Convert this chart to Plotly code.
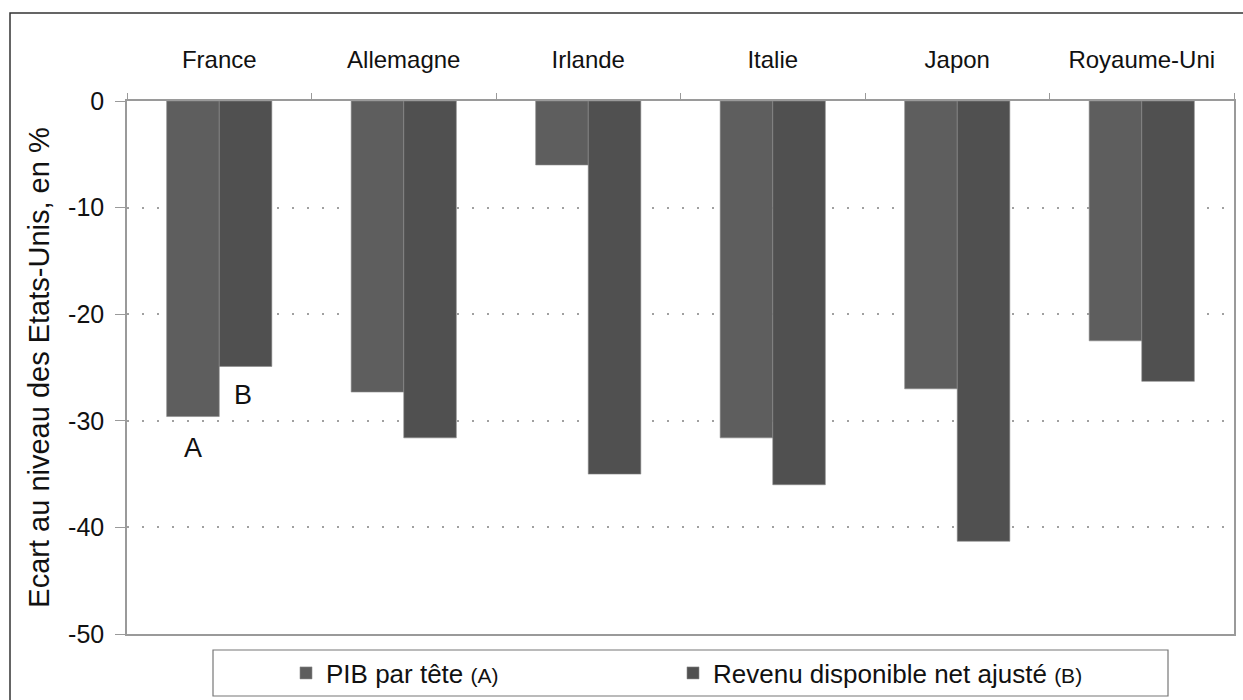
import plotly.graph_objects as go

# Data
pays = ['France', 'Allemagne', 'Irlande', 'Italie', 'Japon', 'Royaume-Uni']
pib_par_tete = [-29.6, -27.3, -6.0, -31.6, -27.0, -22.5]
revenu_ajuste = [-24.9, -31.6, -35.0, -36.0, -41.3, -26.3]
y_ticks = [0, -10, -20, -30, -40, -50]
y_tick_labels = ['0', '-10', '-20', '-30', '-40', '-50']

W, H = 1243, 700
L, R, T, B = 127, 9, 101, 66
PW, PH = W - L - R, H - T - B


def px_x(x):
    return (x - L) / PW


def px_y(y):
    return (H - B - y) / PH


fig = go.Figure()

fig.add_trace(go.Bar(
    x=pays, y=pib_par_tete,
    name="PIB par tête <span style='font-size:21px'>(A)</span>",
    marker=dict(color='#5e5e5e', line=dict(color='#8a8a8a', width=0.6)),
    legend='legend',
))
fig.add_trace(go.Bar(
    x=pays, y=revenu_ajuste,
    name="Revenu disponible net ajusté <span style='font-size:21px'>(B)</span>",
    marker=dict(color='#505050', line=dict(color='#8a8a8a', width=0.6)),
    legend='legend2',
))

legend_style = dict(
    orientation='h',
    xref='container', yref='container',
    xanchor='left', yanchor='middle',
    y=(H - 673) / H,
    borderwidth=0,
    bgcolor='rgba(0,0,0,0)',
    font=dict(size=26),
)

fig.update_layout(
    width=W, height=H,
    margin=dict(l=L, r=R, t=T, b=B),
    paper_bgcolor='white',
    plot_bgcolor='white',
    font=dict(family='Liberation Sans, Arial, sans-serif', size=24, color='#111111'),
    barmode='group',
    bargap=0.43,
    bargroupgap=0,
    showlegend=True,
    legend=dict(legend_style, x=286 / W),
    legend2=dict(legend_style, x=673 / W),
    xaxis=dict(
        side='top',
        automargin=False,
        showline=True, linecolor='#9a9a9a', linewidth=1.5, mirror=True,
        ticks='outside', tickson='boundaries', ticklen=6, tickcolor='#9a9a9a',
        ticklabelstandoff=22,
        showgrid=False,
        tickfont=dict(size=24),
    ),
    yaxis=dict(
        range=[-50, 0],
        automargin=False,
        tickmode='array', tickvals=y_ticks, ticktext=y_tick_labels,
        showline=True, linecolor='#9a9a9a', linewidth=1.5, mirror=True,
        ticks='outside', ticklen=10, tickcolor='#9a9a9a',
        ticklabelstandoff=6,
        showgrid=True, gridcolor='#a0a0a0', griddash='2px,13px', gridwidth=1.5,
        zeroline=False,
        tickfont=dict(size=25),
        title=dict(text='Ecart au niveau des Etats-Unis, en %', font=dict(size=29), standoff=10),
    ),
)

# Outer frame of the figure
fig.add_shape(
    type='rect', xref='paper', yref='paper',
    x0=px_x(10), x1=px_x(1260), y0=px_y(720), y1=px_y(13),
    line=dict(color='#333333', width=1.5),
    layer='below',
)

# Legend box
fig.add_shape(
    type='rect', xref='paper', yref='paper',
    x0=px_x(213), x1=px_x(1168), y0=px_y(696), y1=px_y(650),
    line=dict(color='#777777', width=1.2),
    fillcolor='white',
    layer='below',
)

# Bar markers A and B
fig.add_annotation(x='France', y=pib_par_tete[0], xshift=-26, yshift=-31,
                   text='A', showarrow=False, font=dict(size=27), yanchor='middle')
fig.add_annotation(x='France', y=revenu_ajuste[0], xshift=24, yshift=-29,
                   text='B', showarrow=False, font=dict(size=27), yanchor='middle')

# Drop the default page margin so the figure sits at the window's top-left corner
fig.write_html('out.html', config={'displayModeBar': False},
               post_script="document.body.style.margin = '0px';")
